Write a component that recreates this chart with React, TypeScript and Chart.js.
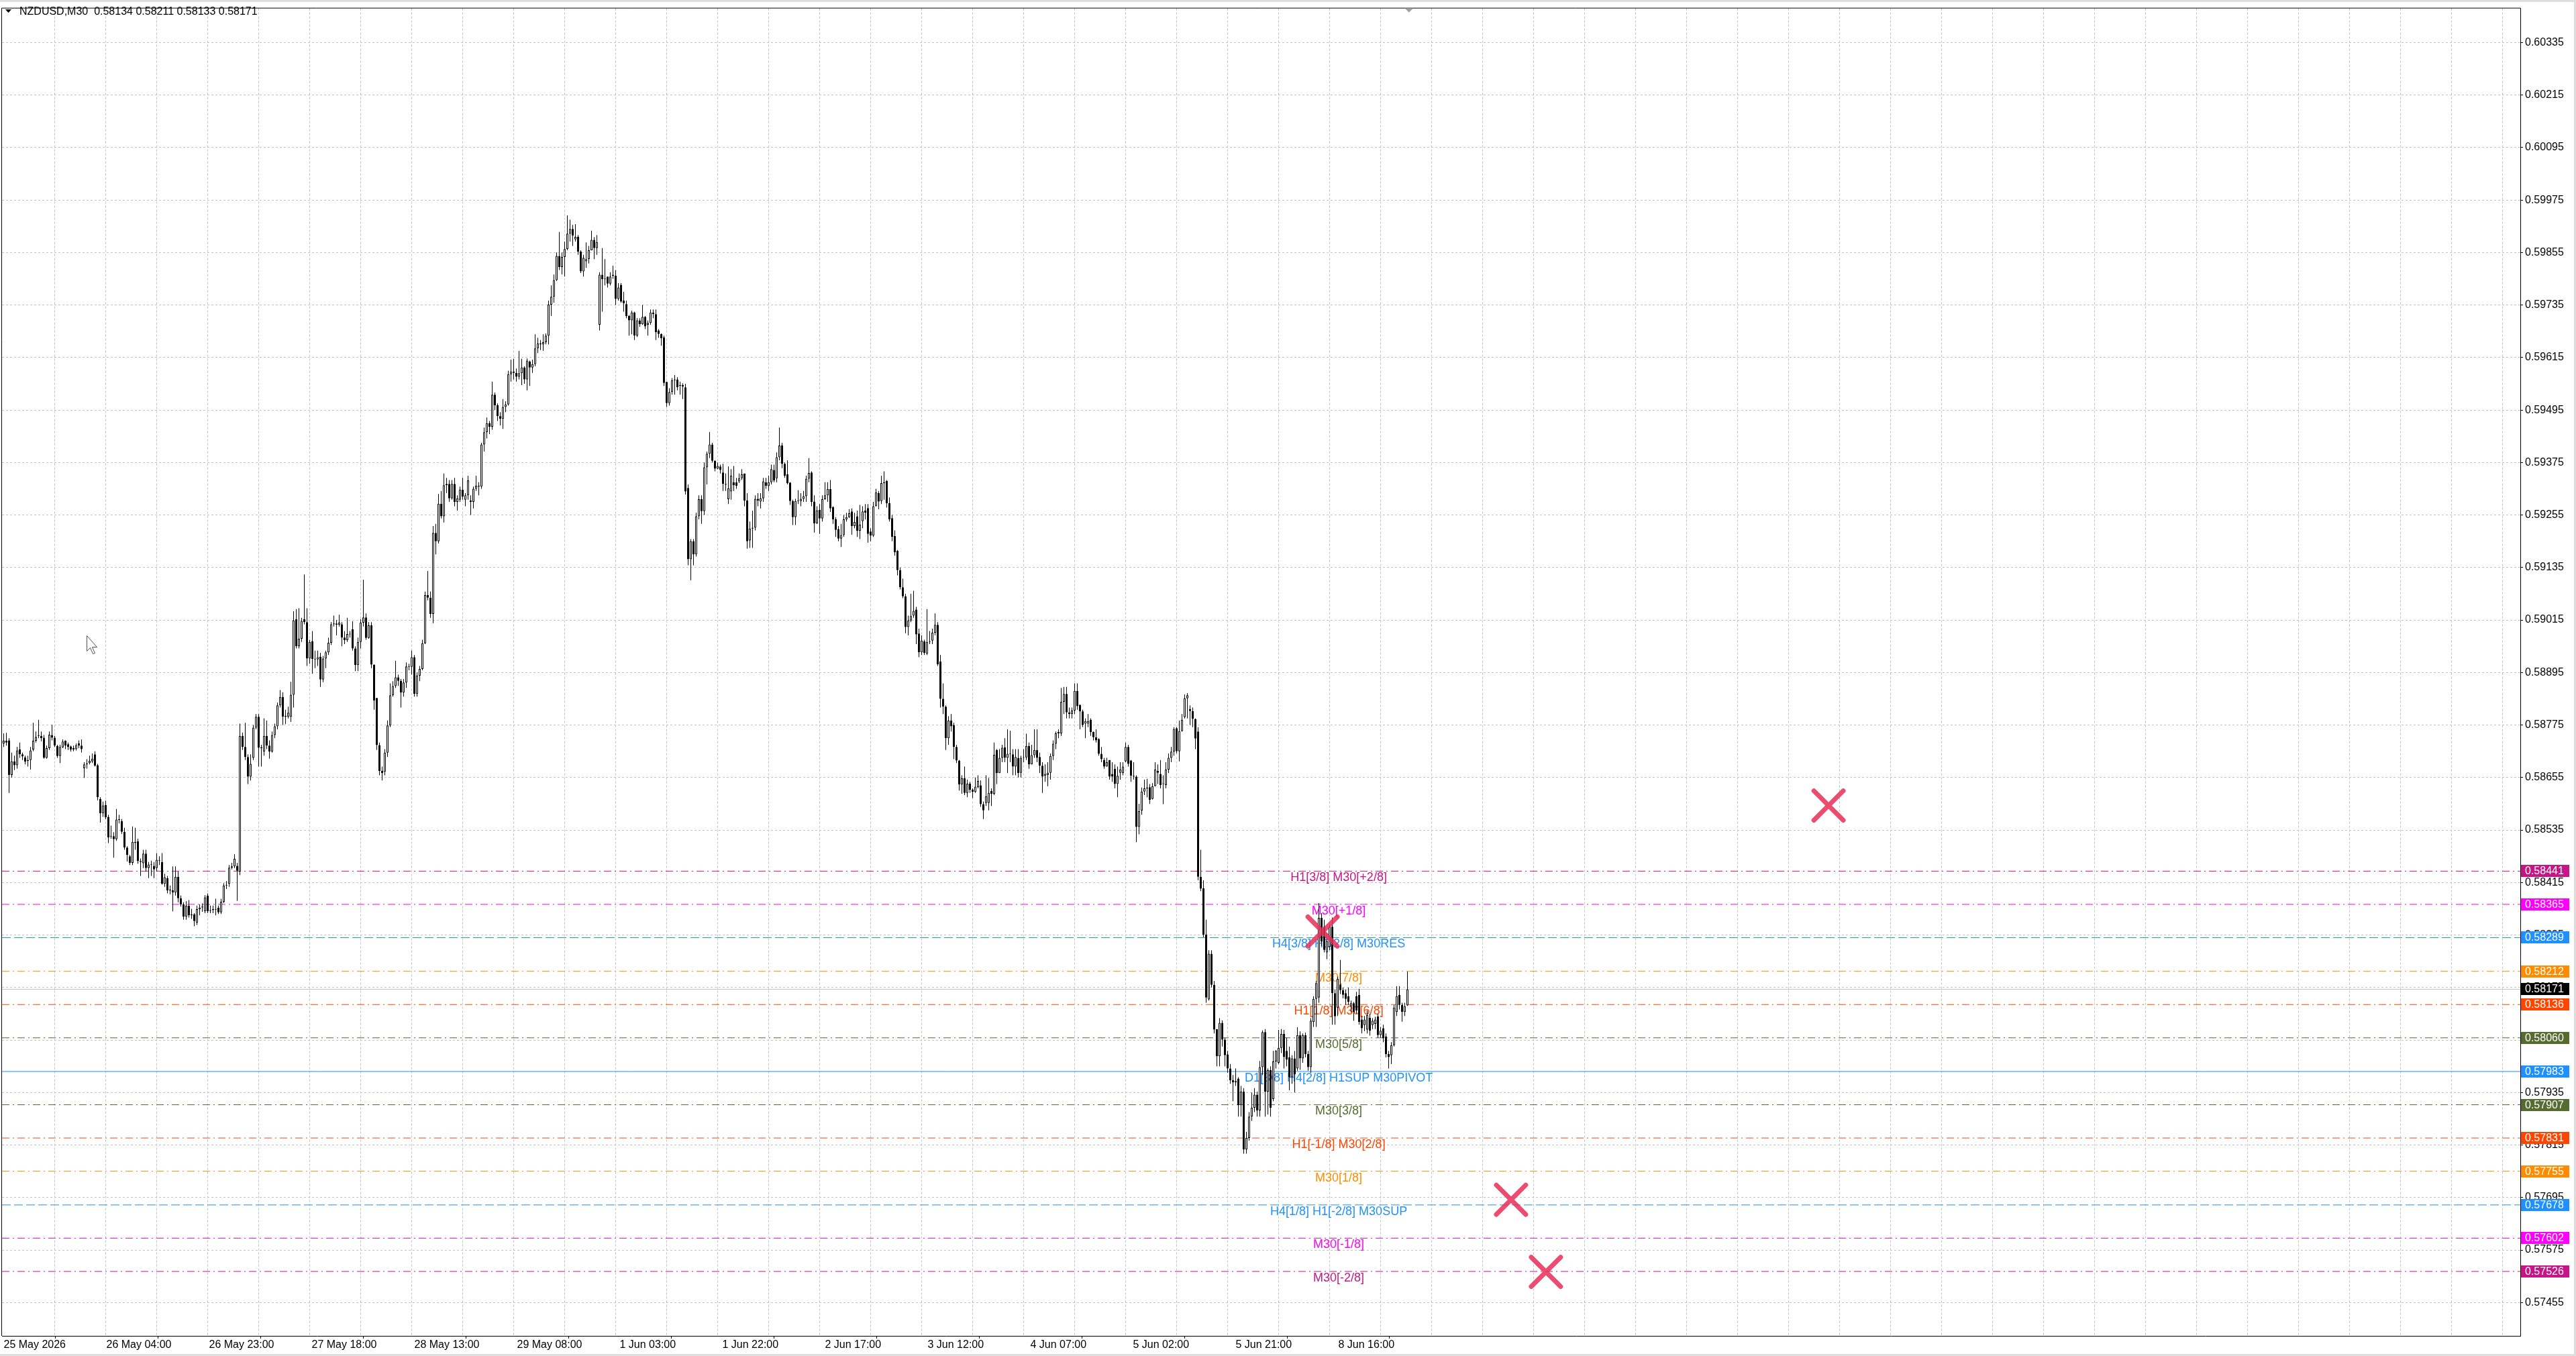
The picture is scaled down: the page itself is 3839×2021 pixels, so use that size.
import { useEffect, useRef } from "react";
import { Chart, registerables } from "chart.js";

Chart.register(...registerables);

// ---------- data ----------
const headerText = "NZDUSD,M30  0.58134 0.58211 0.58133 0.58171";

const xLabels = [
  "25 May 2026", "26 May 04:00", "26 May 23:00", "27 May 18:00", "28 May 13:00",
  "29 May 08:00", "1 Jun 03:00", "1 Jun 22:00", "2 Jun 17:00", "3 Jun 12:00",
  "4 Jun 07:00", "5 Jun 02:00", "5 Jun 21:00", "8 Jun 16:00",
];

const yTicks = [
  0.60335, 0.60215, 0.60095, 0.59975, 0.59855, 0.59735, 0.59615, 0.59495, 0.59375,
  0.59255, 0.59135, 0.59015, 0.58895, 0.58775, 0.58655, 0.58535, 0.58415, 0.58295,
  0.58175, 0.58055, 0.57935, 0.57815, 0.57695, 0.57575, 0.57455,
];

// M30 candles, prices in 1e-5 units
const opens = [
  58733,58739,58740,58661,58692,58683,58719,58708,58701,58693,
  58695,58719,58739,58750,58750,58746,58700,58722,58752,58746,
  58727,58704,58724,58739,58731,58726,58719,58720,58733,58728,
  58676,58685,58688,58692,58708,58683,58606,58573,58592,58565,
  58520,58521,58514,58559,58555,58531,58495,58475,58460,58508,
  58509,58464,58459,58481,58448,58456,58453,58448,58466,58462,
  58412,58425,58397,58397,58392,58428,58379,58365,58337,58362,
  58340,58342,58323,58354,58358,58349,58385,58350,58352,58354,
  58357,58347,58371,58408,58412,58449,58452,58453,58440,58750,
  58725,58702,58657,58700,58769,58794,58723,58714,58750,58728,
  58714,58752,58772,58820,58839,58794,58794,58794,58844,59017,
  58955,58972,59017,59010,58927,58967,58926,58925,58931,58879,
  58927,58941,58963,59005,59007,59004,59005,58975,58969,58983,
  58994,58950,58912,58965,59009,59021,58974,59003,58913,58837,
  58729,58670,58668,58712,58774,58843,58864,58884,58876,58849,
  58872,58909,58908,58930,58846,58888,58903,58962,59072,59066,
  59029,59214,59195,59281,59252,59323,59326,59293,59326,59285,
  59290,59313,59290,59300,59288,59285,59315,59322,59320,59416,
  59444,59465,59457,59530,59506,59481,59475,59502,59508,59577,
  59583,59580,59571,59579,59592,59565,59606,59592,59600,59636,
  59647,59645,59650,59665,59736,59754,59792,59847,59822,59845,
  59863,59898,59909,59885,59891,59857,59812,59835,59840,59860,
  59884,59865,59690,59804,59794,59800,59784,59802,59802,59749,
  59781,59745,59737,59710,59700,59718,59665,59700,59691,59708,
  59690,59694,59718,59714,59677,59669,59661,59559,59511,59536,
  59563,59565,59550,59552,59547,59317,59154,59195,59165,59252,
  59291,59264,59364,59395,59416,59379,59361,59366,59352,59326,
  59291,59309,59330,59330,59332,59339,59350,59288,59197,59224,
  59226,59292,59286,59293,59330,59321,59330,59358,59339,59387,
  59414,59372,59348,59329,59287,59250,59287,59287,59292,59298,
  59338,59352,59286,59236,59267,59247,59291,59300,59314,59273,
  59245,59223,59201,59209,59245,59250,59263,59230,59252,59219,
  59241,59265,59271,59217,59208,59275,59305,59287,59328,59333,
  59282,59248,59207,59173,59129,59090,59069,58999,59014,59025,
  59039,58984,58941,58966,58938,58965,58968,58986,59004,58920,
  58835,58817,58745,58785,58775,58725,58694,58639,58653,58620,
  58641,58627,58622,58633,58637,58594,58597,58597,58624,58618,
  58718,58665,58700,58724,58700,58709,58708,58680,58700,58666,
  58700,58701,58727,58685,58706,58718,58702,58682,58659,58661,
  58666,58704,58732,58756,58756,58828,58846,58804,58800,58808,
  58853,58821,58806,58778,58778,58787,58759,58747,58743,58709,
  58695,58680,58695,58663,58675,58640,58666,58665,58692,58725,
  58694,58659,58657,58542,58579,58623,58630,58633,58606,58635,
  58670,58663,58640,58638,58673,58700,58714,58768,58715,58761,
  58793,58836,58811,58807,58789,58760,58428,58402,58296,58148,
  58252,58181,58080,58018,58094,58056,58022,57990,57963,57958,
  57967,57906,57937,57805,57831,57880,57900,57930,57894,57993,
  58073,57937,57986,57920,58006,58003,58037,58069,58030,58015,
  57970,58013,57990,58066,58013,58066,58023,57993,58096,58149,
  58152,58334,58314,58255,58268,58314,58162,58129,58182,58169,
  58162,58155,58132,58139,58155,58158,58102,58089,58079,58106,
  58089,58092,58109,58066,58082,58063,58023,58020,58043,58119,
  58158,58135,58119,58134,
];

const highs = [
  58756,58757,58745,58712,58705,58725,58735,58712,58705,58705,
  58725,58780,58760,58787,58760,58752,58728,58760,58776,58750,
  58730,58730,58742,58740,58735,58728,58728,58733,58740,58742,
  58690,58697,58705,58710,58715,58686,58610,58600,58602,58570,
  58545,58530,58583,58570,58560,58540,58498,58478,58543,58540,
  58515,58470,58490,58490,58462,58465,58462,58482,58475,58482,
  58435,58430,58408,58452,58452,58440,58385,58370,58372,58375,
  58355,58345,58362,58365,58367,58386,58390,58362,58362,58378,
  58362,58378,58413,58418,58455,58460,58480,58460,58778,58758,
  58780,58708,58708,58775,58800,58800,58730,58790,58785,58740,
  58760,58778,58826,58855,58850,58810,58817,58874,59035,59040,
  59042,59020,59119,59042,58970,58990,58945,58945,58940,58933,
  58945,58975,59010,59025,59015,59027,59010,58990,59020,58990,
  59012,58955,58975,59017,59107,59030,59010,59010,58913,58837,
  58735,58680,58720,58785,58870,58875,58922,58890,58880,58880,
  58918,58915,58945,58935,58895,58910,58970,59080,59127,59080,
  59230,59235,59303,59310,59350,59340,59335,59335,59340,59300,
  59320,59340,59305,59345,59300,59320,59345,59330,59420,59455,
  59478,59470,59560,59535,59510,59490,59520,59515,59585,59610,
  59612,59590,59630,59612,59595,59613,59608,59610,59668,59660,
  59655,59668,59670,59745,59780,59805,59855,59902,59855,59880,
  59940,59930,59918,59920,59895,59860,59850,59878,59870,59905,
  59890,59895,59810,59865,59840,59800,59810,59825,59815,59785,
  59785,59765,59745,59712,59722,59720,59705,59705,59735,59710,
  59700,59725,59725,59725,59680,59670,59665,59560,59545,59568,
  59575,59570,59560,59556,59555,59325,59200,59200,59260,59300,
  59300,59375,59400,59445,59420,59380,59375,59370,59372,59350,
  59366,59360,59367,59340,59350,59360,59350,59305,59240,59265,
  59300,59305,59305,59340,59340,59345,59370,59370,59398,59455,
  59420,59375,59380,59330,59290,59292,59312,59305,59310,59345,
  59385,59355,59300,59275,59280,59300,59330,59330,59335,59275,
  59250,59230,59235,59255,59260,59268,59270,59260,59265,59278,
  59275,59280,59280,59225,59285,59315,59310,59345,59355,59335,
  59295,59255,59220,59175,59135,59110,59075,59025,59075,59082,
  59045,58995,58980,58970,59040,58990,58995,59030,59010,58935,
  58870,58820,58795,58800,58780,58730,58695,58660,58680,58650,
  58645,58630,58655,58660,58648,58600,58660,58654,58630,58735,
  58720,58720,58730,58745,58765,58762,58720,58720,58720,58705,
  58720,58755,58735,58730,58765,58765,58712,58690,58685,58690,
  58710,58740,58760,58765,58860,58862,58862,58815,58815,58870,
  58870,58822,58810,58790,58800,58790,58760,58765,58745,58725,
  58700,58700,58695,58690,58685,58680,58690,58690,58735,58730,
  58695,58690,58660,58595,58632,58650,58652,58640,58642,58690,
  58685,58695,58660,58690,58710,58725,58770,58770,58785,58800,
  58845,58848,58820,58815,58790,58770,58490,58420,58330,58260,
  58260,58190,58080,58105,58100,58060,58030,58000,57975,57990,
  57970,57950,57945,57845,57890,57935,57945,57937,58007,58077,
  58080,57990,57995,58030,58032,58078,58080,58078,58060,58040,
  58020,58030,58084,58075,58070,58072,58030,58105,58155,58190,
  58368,58345,58330,58300,58320,58335,58170,58200,58238,58175,
  58170,58175,58145,58142,58165,58172,58110,58110,58122,58115,
  58105,58108,58115,58085,58090,58070,58030,58050,58135,58178,
  58178,58140,58140,58211,
];

const lows = [
  58725,58728,58620,58655,58672,58675,58700,58695,58685,58680,
  58673,58715,58735,58745,58738,58698,58698,58718,58740,58725,
  58700,58688,58722,58720,58718,58714,58715,58717,58722,58712,
  58654,58675,58685,58688,58680,58603,58552,58565,58560,58505,
  58515,58472,58510,58550,58526,58490,58463,58455,58455,58490,
  58458,58430,58448,58440,58425,58430,58425,58440,58455,58410,
  58405,58390,58388,58349,58385,58370,58360,58330,58330,58335,
  58332,58315,58318,58340,58348,58345,58345,58345,58345,58340,
  58343,58343,58368,58400,58405,58445,58448,58373,58432,58718,
  58695,58640,58648,58695,58765,58680,58680,58705,58720,58698,
  58712,58745,58765,58815,58775,58777,58790,58782,58815,58950,
  58950,58965,59005,58910,58915,58892,58905,58910,58862,58873,
  58905,58935,58958,59000,58980,59000,58955,58960,58965,58975,
  58945,58898,58898,58950,59000,58970,58972,58905,58810,58718,
  58660,58648,58660,58702,58770,58840,58860,58865,58815,58840,
  58860,58900,58890,58840,58840,58875,58900,58960,59060,59020,
  59008,59165,59190,59247,59238,59305,59285,59290,59275,59265,
  59285,59290,59275,59290,59255,59270,59310,59300,59315,59400,
  59430,59440,59450,59495,59470,59460,59452,59490,59505,59560,
  59565,59560,59565,59552,59555,59540,59550,59580,59595,59625,
  59632,59630,59645,59645,59710,59740,59790,59815,59805,59800,
  59860,59880,59870,59880,59850,59808,59800,59820,59830,59860,
  59840,59850,59677,59720,59780,59775,59780,59795,59735,59745,
  59740,59720,59705,59665,59668,59655,59662,59685,59690,59680,
  59665,59690,59705,59655,59660,59642,59550,59502,59505,59530,
  59530,59540,59530,59520,59302,59140,59106,59140,59160,59245,
  59235,59255,59325,59385,59375,59355,59360,59350,59310,59310,
  59280,59290,59310,59315,59328,59335,59275,59178,59180,59180,
  59220,59275,59270,59285,59315,59310,59325,59330,59330,59380,
  59362,59340,59325,59278,59232,59232,59280,59275,59285,59285,
  59330,59275,59215,59235,59212,59240,59290,59285,59262,59235,
  59205,59195,59182,59205,59240,59248,59210,59225,59205,59200,
  59225,59245,59192,59195,59205,59275,59268,59280,59290,59272,
  59240,59195,59162,59117,59085,59065,58985,58980,59010,59020,
  58960,58930,58935,58935,58935,58960,58960,58980,58910,58815,
  58800,58718,58730,58760,58697,58688,58625,58618,58615,58610,
  58620,58608,58620,58630,58588,58560,58590,58580,58590,58615,
  58640,58665,58690,58690,58665,58690,58660,58660,58655,58655,
  58690,58695,58675,58685,58700,58690,58665,58620,58645,58635,
  58650,58695,58720,58745,58750,58800,58790,58790,58790,58800,
  58810,58765,58770,58745,58770,58750,58740,58735,58705,58690,
  58675,58680,58650,58645,58630,58610,58650,58660,58690,58680,
  58645,58650,58507,58525,58570,58615,58610,58595,58605,58635,
  58640,58630,58594,58630,58665,58690,58705,58710,58692,58760,
  58790,58790,58775,58770,58720,58420,58395,58290,58140,58145,
  58175,58070,57995,57995,58040,57995,57980,57955,57915,57950,
  57880,57880,57795,57795,57825,57870,57890,57880,57880,57975,
  57880,57885,57880,57915,57990,58000,58025,57990,57995,57940,
  57955,57935,57985,57987,58003,58015,57985,57980,58085,58085,
  58140,58270,58255,58240,58260,58090,58090,58110,58160,58150,
  58135,58135,58118,58099,58115,58090,58070,58075,58070,58065,
  58080,58080,58060,58060,58050,58015,57990,58000,58040,58110,
  58125,58097,58110,58133,
];

const closes = [
  58739,58735,58661,58692,58683,58717,58708,58703,58691,58695,
  58717,58739,58748,58752,58745,58700,58722,58753,58746,58728,
  58704,58725,58737,58728,58725,58719,58722,58729,58728,58720,
  58685,58687,58693,58698,58682,58610,58573,58591,58564,58518,
  58520,58514,58559,58558,58531,58495,58478,58460,58508,58505,
  58464,58462,58481,58448,58456,58455,58445,58467,58465,58412,
  58427,58397,58397,58392,58428,58379,58365,58337,58362,58340,
  58342,58327,58354,58358,58360,58381,58349,58352,58354,58353,
  58347,58371,58408,58409,58449,58452,58469,58442,58750,58725,
  58702,58657,58686,58769,58794,58723,58722,58750,58728,58714,
  58752,58772,58820,58839,58794,58796,58803,58844,59014,58955,
  58972,59013,59010,58927,58965,58926,58925,58930,58879,58927,
  58941,58963,59005,59007,59004,59009,58975,58969,58983,58982,
  58950,58912,58965,59009,59021,58974,59003,58913,58831,58729,
  58670,58665,58712,58774,58843,58864,58884,58876,58849,58872,
  58909,58908,58930,58846,58888,58903,58962,59072,59066,59029,
  59214,59195,59281,59252,59323,59326,59293,59326,59285,59293,
  59313,59297,59300,59334,59285,59315,59322,59320,59416,59444,
  59465,59457,59530,59506,59481,59475,59502,59508,59577,59583,
  59580,59571,59579,59592,59565,59608,59592,59600,59636,59647,
  59645,59650,59665,59736,59754,59792,59847,59822,59845,59863,
  59898,59909,59894,59891,59857,59812,59843,59840,59860,59884,
  59865,59879,59804,59794,59795,59784,59800,59804,59749,59775,
  59743,59739,59710,59700,59718,59665,59700,59691,59708,59686,
  59694,59718,59714,59673,59669,59659,59557,59511,59536,59563,
  59565,59547,59552,59549,59309,59154,59195,59165,59252,59291,
  59264,59364,59395,59416,59379,59361,59367,59358,59326,59324,
  59316,59345,59323,59322,59339,59348,59288,59195,59224,59226,
  59292,59288,59293,59332,59322,59330,59360,59334,59387,59414,
  59372,59345,59328,59287,59250,59287,59288,59292,59298,59338,
  59351,59285,59236,59265,59247,59291,59300,59314,59270,59245,
  59221,59201,59209,59245,59250,59259,59230,59239,59219,59233,
  59263,59260,59212,59208,59275,59307,59286,59328,59330,59282,
  59245,59205,59170,59129,59090,59069,58999,59014,59024,59036,
  58982,58941,58968,58940,58965,58966,58986,59004,58914,58835,
  58817,58745,58785,58772,58725,58694,58639,58653,58620,58641,
  58627,58622,58634,58647,58594,58580,58612,58620,58618,58707,
  58665,58700,58723,58700,58709,58708,58680,58702,58665,58700,
  58700,58727,58685,58706,58718,58700,58682,58657,58663,58666,
  58704,58732,58756,58759,58828,58846,58804,58800,58808,58853,
  58818,58806,58775,58784,58784,58759,58747,58740,58709,58697,
  58680,58690,58657,58657,58640,58659,58673,58680,58725,58686,
  58659,58657,58542,58578,58623,58630,58630,58604,58635,58673,
  58666,58638,58640,58673,58700,58714,58766,58715,58761,58787,
  58836,58843,58807,58789,58744,58428,58401,58296,58152,58252,
  58181,58079,58018,58094,58056,58020,57990,57963,57958,57961,
  57906,57937,57805,57831,57880,57900,57930,57894,57993,58073,
  57937,57986,57900,58006,58030,58037,58069,58016,58010,57970,
  58013,57977,58066,58013,58066,58023,57993,58099,58149,58185,
  58334,58280,58261,58281,58314,58162,58109,58195,58169,58158,
  58149,58142,58139,58119,58122,58096,58082,58102,58112,58076,
  58099,58102,58066,58076,58059,58023,58016,58043,58129,58155,
  58135,58119,58132,58171,
];

const levelPrices = [
  0.58441, 0.58365, 0.58289, 0.58212, 0.58136, 0.5806, 0.57983,
  0.57907, 0.57831, 0.57755, 0.57678, 0.57602, 0.57526,
];
const levelNames = [
  "H1[3/8] M30[+2/8]", "M30[+1/8]", "H4[3/8] H1[2/8] M30RES", "M30[7/8]",
  "H1[1/8] M30[6/8]", "M30[5/8]", "D1[3/8] H4[2/8] H1SUP M30PIVOT", "M30[3/8]",
  "H1[-1/8] M30[2/8]", "M30[1/8]", "H4[1/8] H1[-2/8] M30SUP", "M30[-1/8]", "M30[-2/8]",
];
const levelColors = [
  "#C71585", "#FF00FF", "#1E90FF", "#FF8C00", "#FF4500", "#556B2F", "#1E90FF",
  "#556B2F", "#FF4500", "#FF8C00", "#1E90FF", "#FF00FF", "#C71585",
];
const levelStyles = [
  "dashdot", "dashdot", "dash", "dashdot", "dashdot", "dashdot", "solid",
  "dashdot", "dashdot", "dashdot", "dash", "dashdot", "dashdot",
];
const currentPrice = 0.58171;

const crossBars = [679.9, 491.4, 561.6, 574.6];
const crossPrices = [0.58591, 0.58303, 0.5769, 0.57525];

// ---------- layout constants ----------
const W = 3839;
const H = 2021;
const FONT = "'Liberation Sans', Arial, Helvetica, sans-serif";
const X_MIN = -0.625;
const X_MAX = 937.625;
const Y_MIN = 0.573787;
const Y_MAX = 0.604129;
const GRID_EVERY = 19;
const LABEL_STEP = 38.25;
const LEVEL_LABEL_BAR = 497.4;
const GRID_COLOR = "#c4c4c4";

const dashFor = (s: string) =>
  s === "dash" ? [13, 5] : s === "dashdot" ? [11, 5, 2, 5] : [];

const overlayPlugin = {
  id: "mt4overlay",
  beforeDraw(chart: any) {
    const ctx = chart.ctx;
    ctx.save();
    ctx.fillStyle = "#ffffff";
    ctx.fillRect(0, 0, W, H);
    ctx.restore();
  },
  beforeDatasetsDraw(chart: any) {
    const ctx = chart.ctx;
    const xs = chart.scales.x;
    const ys = chart.scales.y;
    ctx.save();
    ctx.font = `18px ${FONT}`;
    ctx.textAlign = "center";
    ctx.textBaseline = "middle";
    levelPrices.forEach((p, k) => {
      ctx.fillStyle = levelColors[k];
      ctx.fillText(levelNames[k], xs.getPixelForValue(LEVEL_LABEL_BAR), ys.getPixelForValue(p) + 10);
    });
    ctx.restore();
  },
  beforeDatasetDraw(chart: any, args: any) {
    if (chart.data.datasets[args.index].label === "marks") {
      chart.ctx.save();
      chart.ctx.lineCap = "round";
    }
  },
  afterDatasetDraw(chart: any, args: any) {
    if (chart.data.datasets[args.index].label === "marks") {
      chart.ctx.restore();
    }
  },
  afterDraw(chart: any) {
    const ctx = chart.ctx;
    const ys = chart.scales.y;
    const xs = chart.scales.x;
    const { left, top, right, bottom } = chart.chartArea;
    ctx.save();
    // window edges
    ctx.fillStyle = "#dedede";
    ctx.fillRect(0, 0, W, 3);
    ctx.fillRect(0, H - 3, W, 3);
    ctx.fillRect(W - 3, 0, 3, H);
    // frame (left + top)
    ctx.strokeStyle = "#000";
    ctx.lineWidth = 1;
    ctx.beginPath();
    ctx.moveTo(left - 0.5, top - 0.5);
    ctx.lineTo(left - 0.5, bottom);
    ctx.moveTo(left - 0.5, top - 0.5);
    ctx.lineTo(right, top - 0.5);
    ctx.stroke();
    // chart shift marker
    const sx = xs.getPixelForValue(523.6);
    ctx.fillStyle = "#a0a0a0";
    ctx.beginPath();
    ctx.moveTo(sx - 6, top);
    ctx.lineTo(sx + 6, top);
    ctx.lineTo(sx, top + 6);
    ctx.closePath();
    ctx.fill();
    // header
    ctx.fillStyle = "#000";
    ctx.beginPath();
    ctx.moveTo(8, 14);
    ctx.lineTo(17, 14);
    ctx.lineTo(12.5, 19);
    ctx.closePath();
    ctx.fill();
    ctx.font = `16px ${FONT}`;
    ctx.textAlign = "left";
    ctx.textBaseline = "middle";
    ctx.fillText(headerText, 29, 18);
    // price tags on the right axis
    const tags = levelPrices.map((p, k) => ({ p, c: levelColors[k] }));
    tags.push({ p: currentPrice, c: "#000000" });
    tags.forEach(({ p, c }) => {
      const y = ys.getPixelForValue(p);
      ctx.fillStyle = c;
      ctx.fillRect(right + 1, Math.round(y) - 9, 72, 18);
      ctx.fillStyle = "#ffffff";
      ctx.fillText(p.toFixed(5), right + 7, Math.round(y) + 0.5);
    });
    // mouse pointer
    const cx = 129, cy = 947;
    const pts = [[0, 0], [0, 23], [5, 18], [9, 27], [12, 26], [8, 17], [15, 17]];
    ctx.beginPath();
    pts.forEach(([a, b], i) => (i ? ctx.lineTo(cx + a + 0.5, cy + b + 0.5) : ctx.moveTo(cx + a + 0.5, cy + b + 0.5)));
    ctx.closePath();
    ctx.fillStyle = "#ffffff";
    ctx.fill();
    ctx.strokeStyle = "#555";
    ctx.stroke();
    ctx.restore();
  },
};

export default function App() {
  const ref = useRef<HTMLCanvasElement>(null);

  useEffect(() => {
    document.body.style.margin = "0";
    const px = (v: number) => v / 1e5;
    const idx = closes.map((_, i) => i);
    const wickData = idx.map((i) => ({
      x: i,
      y: [px(Math.min(lows[i], opens[i], closes[i])), px(Math.max(highs[i], opens[i], closes[i]))],
    }));
    const bodyData = idx.map((i) => ({ x: i, y: [px(opens[i]), px(closes[i])] }));
    const bodyColors = idx.map((i) => (closes[i] >= opens[i] ? "#ffffff" : "#000000"));

    const levelSets = levelPrices.map((p, k) => ({
      type: "line",
      label: "lvl" + k,
      xAxisID: "x",
      yAxisID: "y",
      data: [{ x: X_MIN, y: p }, { x: X_MAX, y: p }],
      borderColor: levelColors[k],
      borderWidth: 1,
      borderDash: dashFor(levelStyles[k]),
      pointRadius: 0,
      fill: false,
      tension: 0,
      order: 6,
    }));

    const chart = new Chart(ref.current as HTMLCanvasElement, {
      type: "bar",
      data: {
        datasets: [
          ...levelSets,
          {
            type: "line",
            label: "current",
            xAxisID: "x",
            yAxisID: "y",
            data: [{ x: X_MIN, y: currentPrice }, { x: X_MAX, y: currentPrice }],
            borderColor: "#c0c0c0",
            borderWidth: 1,
            pointRadius: 0,
            fill: false,
            order: 5,
          },
          {
            type: "bar",
            label: "wicks",
            xAxisID: "x",
            yAxisID: "y",
            data: wickData,
            backgroundColor: "#000000",
            borderWidth: 0,
            grouped: false,
            maxBarThickness: 1,
            categoryPercentage: 1,
            barPercentage: 1,
            inflateAmount: 0,
            order: 3,
          },
          {
            type: "bar",
            label: "bodies",
            xAxisID: "x",
            yAxisID: "y",
            data: bodyData,
            backgroundColor: bodyColors,
            borderColor: "#000000",
            borderWidth: 1,
            borderSkipped: false,
            grouped: false,
            maxBarThickness: 3,
            categoryPercentage: 1,
            barPercentage: 1,
            minBarLength: 1,
            inflateAmount: 0,
            order: 2,
          },
          {
            type: "scatter",
            label: "marks",
            xAxisID: "x",
            yAxisID: "y",
            data: crossBars.map((b, k) => ({ x: b, y: crossPrices[k] })),
            pointStyle: "crossRot",
            pointRadius: 31,
            pointBorderWidth: 7,
            pointBorderColor: "rgba(230, 48, 88, 0.86)",
            pointBackgroundColor: "rgba(0,0,0,0)",
            showLine: false,
            order: 0,
          },
        ] as any,
      },
      options: {
        responsive: false,
        animation: false,
        devicePixelRatio: 1,
        events: [],
        layout: { autoPadding: false, padding: { left: 3, top: 4, right: 0, bottom: 0 } },
        plugins: { legend: { display: false }, tooltip: { enabled: false } },
        scales: {
          x: {
            type: "linear",
            position: "bottom",
            min: X_MIN,
            max: X_MAX,
            offset: false,
            grid: { display: true, drawOnChartArea: true, drawTicks: false, color: GRID_COLOR, offset: false },
            border: { display: false, dash: [3, 3] },
            ticks: { display: false },
            afterBuildTicks: (s: any) => {
              const t = [];
              for (let v = GRID_EVERY; v < X_MAX; v += GRID_EVERY) t.push({ value: v });
              s.ticks = t;
            },
            afterFit: (s: any) => {
              s.height = 0;
            },
          },
          xl: {
            type: "linear",
            position: "bottom",
            min: X_MIN,
            max: X_MAX,
            offset: false,
            grid: { display: true, drawOnChartArea: false, drawTicks: true, tickLength: 4, tickColor: "#000", tickWidth: 1 },
            border: { display: true, color: "#000", width: 1 },
            ticks: {
              autoSkip: false,
              maxRotation: 0,
              minRotation: 0,
              align: "start",
              padding: 0,
              color: "#000",
              font: { family: FONT, size: 16 },
              callback: (_v: any, i: number) => xLabels[i] ?? "",
            },
            afterBuildTicks: (s: any) => {
              s.ticks = xLabels.map((_, k) => ({ value: k * LABEL_STEP }));
            },
            afterFit: (s: any) => {
              s.height = 30;
            },
          },
          y: {
            type: "linear",
            position: "right",
            min: Y_MIN,
            max: Y_MAX,
            grid: { color: GRID_COLOR, drawTicks: true, tickLength: 4, tickColor: "#000", tickWidth: 1, tickBorderDash: [] },
            border: { display: true, color: "#000", width: 1, dash: [3, 3] },
            ticks: {
              autoSkip: false,
              padding: 3,
              color: "#000",
              font: { family: FONT, size: 16 },
              callback: (v: any) => Number(v).toFixed(5),
            },
            afterBuildTicks: (s: any) => {
              s.ticks = yTicks.map((v) => ({ value: v }));
            },
            afterFit: (s: any) => {
              s.width = 83;
            },
          },
        } as any,
      },
      plugins: [overlayPlugin],
    } as any);

    return () => chart.destroy();
  }, []);

  return (
    <div style={{ width: W, height: H }}>
      <canvas ref={ref} width={W} height={H} style={{ display: "block", width: W, height: H }} />
    </div>
  );
}
